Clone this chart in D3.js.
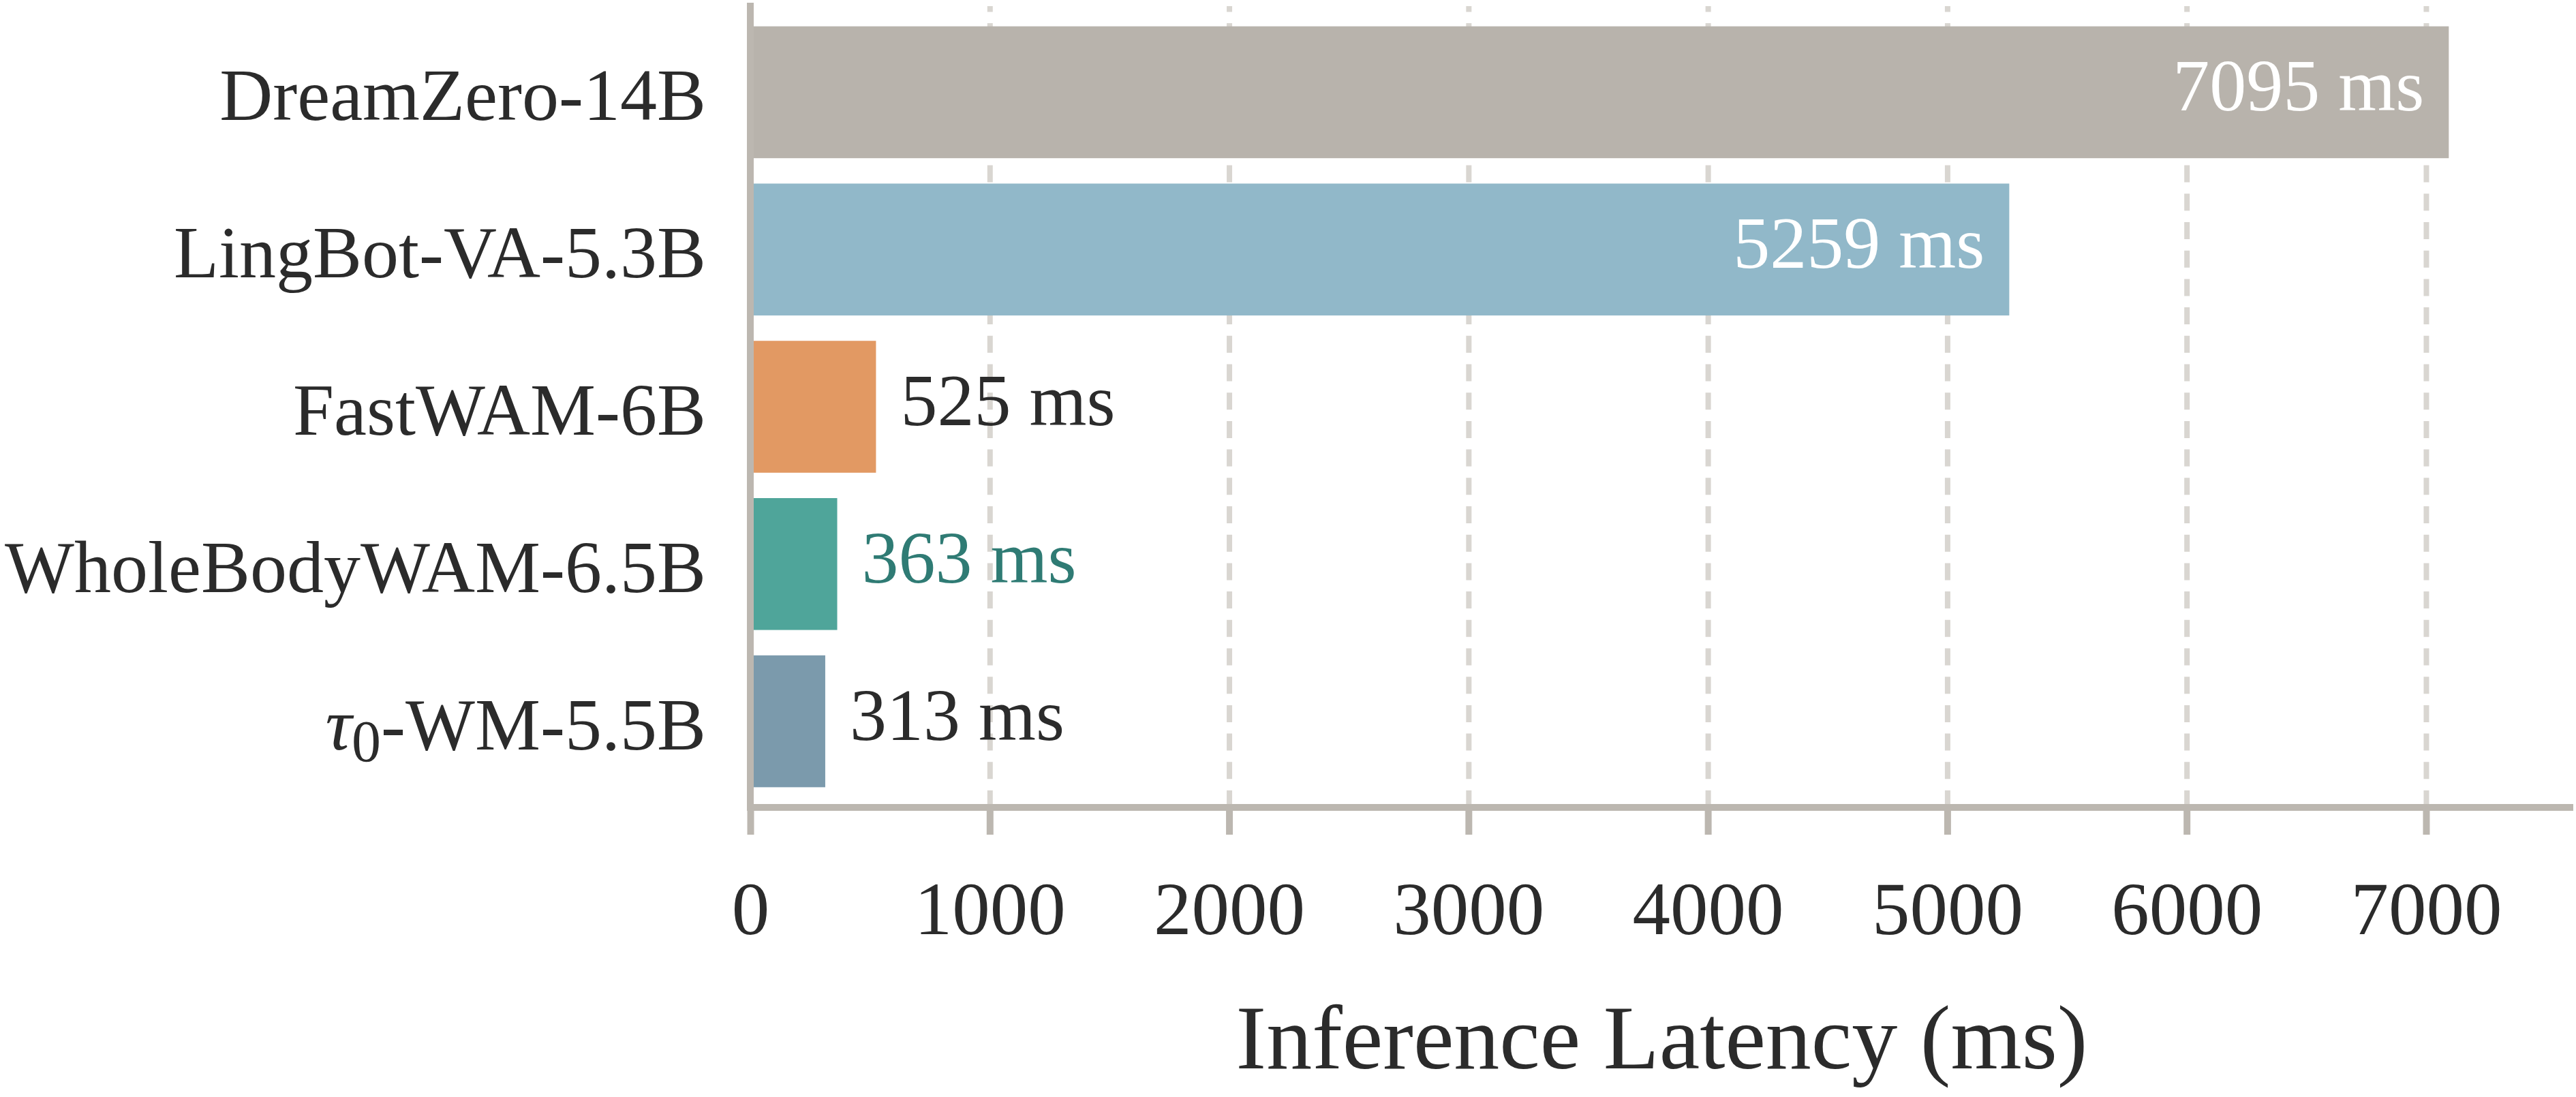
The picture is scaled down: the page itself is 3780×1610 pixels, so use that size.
<!DOCTYPE html>
<html>
<head>
<meta charset="utf-8">
<script src="https://cdn.jsdelivr.net/npm/d3@7"></script>
<style>
  body { margin: 0; background: #fff; }
  text { font-family: "Liberation Serif", "Times New Roman", serif; }
</style>
</head>
<body>
<script>
// data
var models = ["DreamZero-14B", "LingBot-VA-5.3B", "FastWAM-6B", "WholeBodyWAM-6.5B", "τ0-WM-5.5B"];
var latency = [7095, 5259, 525, 363, 313];
var barColors = ["#b8b3ac", "#91b8c9", "#e29963", "#4fa59a", "#7b9aac"];
var xTicks = [0, 1000, 2000, 3000, 4000, 5000, 6000, 7000];
var highlight = "WholeBodyWAM-6.5B";

var W = 3780, H = 1610;
var plotLeft = 1101, plotRight = 3776, plotTop = 4, plotBottom = 1185;

var svg = d3.select("body").append("svg")
    .attr("width", W)
    .attr("height", H);

// scales
var x = d3.scaleLinear().domain([0, 7615]).range([plotLeft, plotRight]);
var y = d3.scaleBand().domain(models).range([20, 1174])
    .paddingInner(0.1614).paddingOuter(0.0807);

// dashed vertical gridlines (drawn from the bottom up)
svg.append("g")
    .attr("transform", "translate(0," + plotBottom + ")")
    .call(d3.axisBottom(x).tickValues(xTicks.slice(1)).tickSize(-(plotBottom - 9)).tickFormat(""))
    .call(g => g.select(".domain").remove())
    .selectAll(".tick line")
      .attr("stroke", "#d9d6d1")
      .attr("stroke-width", 8)
      .attr("stroke-dasharray", "25,16.7");

// bars
svg.append("g")
  .selectAll("rect")
  .data(models)
  .enter()
  .append("rect")
    .attr("x", x(0))
    .attr("y", d => y(d))
    .attr("width", (d, i) => x(latency[i]) - x(0))
    .attr("height", y.bandwidth())
    .attr("fill", (d, i) => barColors[i]);

// value labels: inside the long bars, outside the short ones
svg.append("g")
  .selectAll("text")
  .data(models)
  .enter()
  .append("text")
    .attr("x", (d, i) => latency[i] > 2000 ? x(latency[i]) - 36 : x(latency[i]) + 36)
    .attr("y", d => y(d) + y.bandwidth() / 2 + 27)
    .attr("text-anchor", (d, i) => latency[i] > 2000 ? "end" : "start")
    .attr("font-size", 108)
    .attr("fill", (d, i) => latency[i] > 2000 ? "#ffffff" : (d === highlight ? "#2f7b74" : "#2b2b2b"))
    .text((d, i) => latency[i] + " ms");

// category labels
var cat = svg.append("g")
  .selectAll("text")
  .data(models)
  .enter()
  .append("text")
    .attr("x", 1036)
    .attr("y", d => y(d) + y.bandwidth() / 2 + 41)
    .attr("text-anchor", "end")
    .attr("font-size", 108)
    .attr("fill", "#2b2b2b");

cat.each(function (d) {
  var t = d3.select(this);
  if (d.startsWith("τ0")) {
    t.append("tspan").attr("font-style", "italic").text("τ");
    t.append("tspan").attr("font-size", 86).attr("dy", 17).text("0");
    t.append("tspan").attr("dy", -17).text(d.slice(2));
  } else {
    t.text(d);
  }
});

// left spine
svg.append("line")
    .attr("x1", plotLeft).attr("x2", plotLeft)
    .attr("y1", plotTop).attr("y2", plotBottom + 5)
    .attr("stroke", "#bcb7b0").attr("stroke-width", 10);

// x axis with ticks below the bottom spine
var xAxis = svg.append("g")
    .attr("transform", "translate(0," + (plotBottom + 5) + ")")
    .call(d3.axisBottom(x).tickValues(xTicks).tickSize(35).tickPadding(0).tickFormat(d3.format("d")));

xAxis.select(".domain").remove();
xAxis.selectAll(".tick line")
    .attr("stroke", "#bcb7b0")
    .attr("stroke-width", 10);
xAxis.selectAll(".tick text")
    .attr("y", 181)
    .attr("dy", null)
    .attr("font-size", 111)
    .attr("font-family", "Liberation Serif")
    .attr("fill", "#2b2b2b");

// bottom spine
svg.append("line")
    .attr("x1", plotLeft - 5).attr("x2", plotRight)
    .attr("y1", plotBottom).attr("y2", plotBottom)
    .attr("stroke", "#bcb7b0").attr("stroke-width", 10);

// axis title
svg.append("text")
    .attr("x", (plotLeft + plotRight) / 2)
    .attr("y", 1568)
    .attr("text-anchor", "middle")
    .attr("font-size", 134)
    .attr("fill", "#2b2b2b")
    .text("Inference Latency (ms)");
</script>
</body>
</html>
